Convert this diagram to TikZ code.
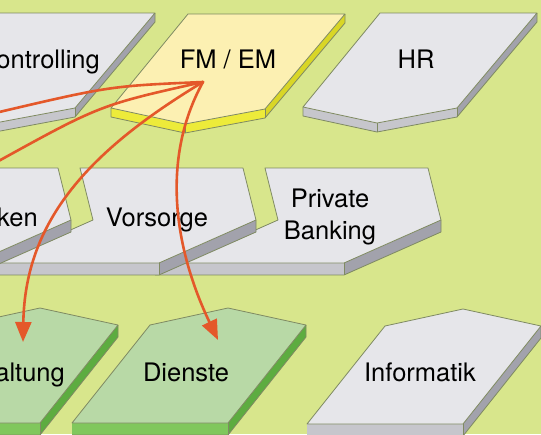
\documentclass[tikz,border=0pt]{standalone}
\usepackage{fontspec}
\setmainfont{TeX Gyre Heros}
\usetikzlibrary{arrows.meta,positioning}

\definecolor{meadow}{HTML}{D8E68C}
\definecolor{edgeolive}{HTML}{7F8A62}
\definecolor{grayTop}{HTML}{E6E6EA}
\definecolor{grayFront}{HTML}{C6C6CC}
\definecolor{graySide}{HTML}{A2A2AC}
\definecolor{fmTop}{HTML}{FCF0B2}
\definecolor{fmFront}{HTML}{EDEB3A}
\definecolor{fmSide}{HTML}{D9D626}
\definecolor{greenTop}{HTML}{B8D9A6}
\definecolor{greenFront}{HTML}{80C75C}
\definecolor{greenSide}{HTML}{5DAC40}
\definecolor{flowred}{HTML}{E4582A}

\tikzset{
  slabline/.style={draw=edgeolive, line width=0.8pt, line join=round},
  slabtext/.style={inner sep=0pt},
  flowline/.style={draw=flowred, line width=2.6pt, line cap=round},
  flowarrow/.style={flowline, -{Triangle[length=20pt,width=16pt]}}
}

% top row slab: corner x, corner y, top, front, side
\newcommand{\topslab}[5]{%
  \begin{scope}[shift={(#1,#2)}]
    \fill[#5] (157,0) -- (157,9) -- (77,104) -- (77,95) -- cycle;
    \fill[#4] (77,95) -- (77,104) -- (-3,119) -- (-77,103) -- (-77,94) -- (-3,110) -- cycle;
    \draw[slabline] (157,0) -- (157,9) -- (77,104) -- (-3,119) -- (-77,103) -- (-77,94);
    \draw[slabline] (77,95) -- (77,104) (-3,110) -- (-3,119);
    \filldraw[slabline, fill=#3] (0,0) -- (157,0) -- (77,95) -- (-3,110) -- (-77,94) -- cycle;
  \end{scope}}

% middle row slab
\newcommand{\midslab}[5]{%
  \begin{scope}[shift={(#1,#2)}]
    \fill[#5] (176,52) -- (176,64) -- (79,107) -- (79,95) -- cycle;
    \fill[#4] (79,95) -- (79,107) -- (-110,107) -- (-110,95) -- cycle;
    \draw[slabline] (176,52) -- (176,64) -- (79,107) -- (-110,107);
    \draw[slabline] (79,95) -- (79,107);
    \filldraw[slabline, fill=#3] (0,0) -- (163,0) -- (176,52) -- (79,95) -- (-84,95) -- (13,52) -- cycle;
  \end{scope}}

% bottom row slab, placed by its peak
\newcommand{\lowslab}[5]{%
  \begin{scope}[shift={(#1,#2)}]
    \fill[#5] (78,17) -- (78,29) -- (0,127) -- (0,115) -- cycle;
    \fill[#4] (0,115) -- (0,127) -- (-156,127) -- (-156,115) -- cycle;
    \draw[slabline] (78,17) -- (78,29) -- (0,127) -- (-156,127);
    \draw[slabline] (0,115) -- (0,127);
    \filldraw[slabline, fill=#3] (0,0) -- (78,17) -- (0,115) -- (-156,115) -- (-78,17) -- cycle;
  \end{scope}}

\begin{document}
\begin{tikzpicture}[x=1pt, y=-1pt, font=\fontsize{25.5}{32}\selectfont]
    \useasboundingbox (0,0) rectangle (541,434);
    \clip (0,0) rectangle (541,434);
    \fill[meadow] (0,0) rectangle (541,434);

    % top row
    \topslab{-2}{13}{grayTop}{grayFront}{graySide}
    \topslab{188}{14}{fmTop}{fmFront}{fmSide}
    \topslab{380}{13}{grayTop}{grayFront}{graySide}

    % middle row, right to left
    \midslab{265}{168}{grayTop}{grayFront}{graySide}
    \midslab{80}{168}{grayTop}{grayFront}{graySide}
    \midslab{-105}{168}{grayTop}{grayFront}{graySide}

    % bottom row
    \lowslab{40}{308}{greenTop}{greenFront}{greenSide}
    \lowslab{228}{308}{greenTop}{greenFront}{greenSide}
    \lowslab{463}{309}{grayTop}{grayFront}{graySide}

    % labels
    \node[slabtext, anchor=base east] (ctrl) at (100,68) {Controlling};
    \node[slabtext, anchor=base] (fmem) at (228,68) {FM / EM};
    \node[slabtext, anchor=base] (hr) at (416,68) {HR};
    \node[slabtext, anchor=base east] (banken) at (38,226) {Banken};
    \node[slabtext, anchor=base] (vorsorge) at (157,226) {Vorsorge};
    \node[slabtext, align=center] (pb) at (330,217) {Private\\Banking};
    \node[slabtext, anchor=base east] (verw) at (65,381) {Verwaltung};
    \node[slabtext, anchor=base] (dienste) at (186,381) {Dienste};
    \node[slabtext, anchor=base] (it) at (420,381) {Informatik};

    % flows out of FM / EM
    \coordinate (hub) at (203,82);
    \coordinate (ctrl-end) at (-5,113);
    \coordinate (bank-end) at (-5,163);
    \coordinate (verw-tip) at (23,342);
    \coordinate (dienste-tip) at (218,340);
    \draw[flowline] (hub) .. controls (110,86) .. (ctrl-end);
    \draw[flowline] (hub) .. controls (100,105) .. (bank-end);
    \draw[flowarrow] (hub) .. controls (90,150) and (25,220) .. (verw-tip);
    \draw[flowarrow] (hub) .. controls (160,160) and (175,250) .. (dienste-tip);
\end{tikzpicture}
\end{document}
